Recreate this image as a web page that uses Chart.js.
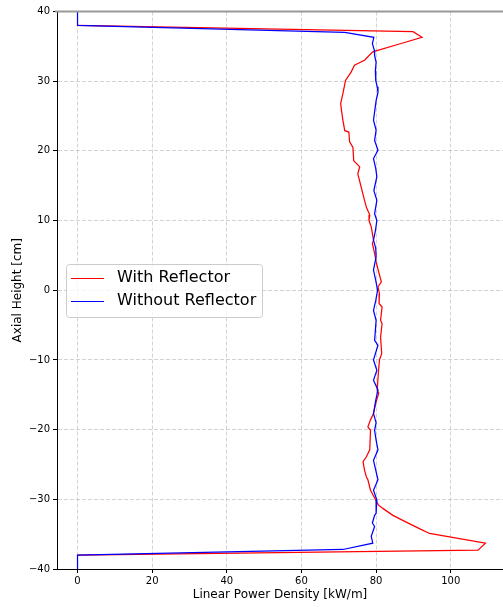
<!DOCTYPE html>
<html>
<head>
<meta charset="utf-8">
<script src="https://cdn.jsdelivr.net/npm/chart.js@4.4.1/dist/chart.umd.min.js"></script>
<style>
  html, body { margin:0; padding:0; background:#fff; }
  #wrap { width:503px; height:607px; }
</style>
</head>
<body>
<div id="wrap"><canvas id="c" width="503" height="607"></canvas></div>
<script>
// ── data ────────────────────────────────────────────────────
const seriesLabels = ['With Reflector', 'Without Reflector'];
const seriesColors = ['#ff0000', '#0000ff'];

// with reflector: axial height [cm] / linear power [kW/m]
// (the 0 kW/m ends at ±38..40 are hidden under the blue line in the picture)
const redZ = [38.0, 37.1, 36.3, 35.3, 34.2, 33.0, 32.3, 31.3, 30.1, 28.2, 26.8, 25.5, 24.4, 22.9, 22.7,
  21.3, 20.5, 18.6, 18.2, 17.7, 16.7, 14.8, 12.9, 11.9, 10.8, 10.0, 9.1, 7.2, 6.7, 5.3, 4.1, 2.4, 1.2, 0.5,
  -0.5, -1.9, -2.4, -4.3, -4.8, -6.7, -9.1, -10.0, -11.9, -14.3, -14.8, -16.2, -17.7, -18.6, -19.6, -20.1,
  -22.9, -23.9, -24.6, -25.8, -26.8, -27.2, -28.7, -30.1, -30.8, -31.3, -32.3, -33.2, -34.2, -34.9, -36.3,
  -37.3, -38.0];
const redP = [0, 89.9, 92.3, 86.0, 79.1, 76.9, 74.2, 73.3, 71.8, 71.1, 70.5, 70.8, 71.1, 71.6, 72.7,
  72.9, 73.8, 74.0, 74.7, 75.6, 75.1, 76.0, 76.9, 77.4, 78.3, 78.1, 78.7, 79.3, 79.0, 79.6, 80.0, 80.8, 81.4, 80.5,
  80.9, 80.8, 81.6, 81.2, 81.6, 81.2, 81.5, 80.9, 80.6, 80.3, 80.7, 79.9, 79.3, 78.5, 77.8, 78.5,
  78.3, 77.4, 76.5, 76.9, 77.4, 77.8, 78.5, 79.9, 80.6, 81.8, 84.5, 87.8, 91.6, 94.3, 109.3,
  107.3, 0];

// without reflector
const blueZ = [40, 38.0, 37.0, 36.3, 35.4, 34.5, 33.7, 32.7, 31.5, 30.1, 29.2, 28.4, 27.2, 26.0, 24.4, 23.0,
  21.5, 20.1, 18.9, 17.5, 16.3, 14.3, 12.9, 11.0, 10.0, 8.5, 7.2, 6.0, 4.8, 2.9, 1.4, 0, -1.5, -2.9, -4.3,
  -5.8, -7.2, -7.9, -10.0, -11.5, -12.9, -14.3, -15.8, -17.7, -19.0, -20.1, -21.5, -22.9, -24.4, -25.8,
  -27.2, -28.7, -30.1, -32.0, -32.3, -33.4, -33.9, -35.3, -36.3, -37.2, -38.0, -40];
const blueP = [0, 0, 71.6, 79.4, 79.0, 79.5, 79.6, 80.0, 79.8, 79.9, 80.3, 80.5, 80.0, 79.7, 79.3, 80.0,
  79.6, 80.5, 79.3, 79.9, 80.2, 79.4, 80.2, 79.6, 80.2, 79.8, 79.3, 79.9, 80.0, 79.3, 79.9, 80.4, 79.9, 79.3, 80.0,
  79.8, 79.6, 80.5, 79.3, 80.2, 79.3, 80.5, 79.9, 79.3, 80.0, 79.6, 80.0, 80.5, 79.3, 79.9,
  80.5, 79.3, 80.2, 80.0, 79.6, 79.0, 79.6, 78.7, 79.1, 71.1, 0, 0];

const xTicks = [0, 20, 40, 60, 80, 100];
const yTicks = [-40, -30, -20, -10, 0, 10, 20, 30, 40];

const pts = (xs, zs) => xs.map((v, i) => ({ x: v, y: zs[i] }));
const FONT = "'DejaVu Sans', sans-serif";
const GRID = 'rgba(176,176,176,0.7)';

// gray top rule + legend box inside plot
const decor = {
  id: 'decor',
  afterDraw(chart) {
    const { ctx, chartArea: a } = chart;
    ctx.save();
    ctx.strokeStyle = '#999999';
    ctx.lineWidth = 2;
    ctx.beginPath();
    ctx.moveTo(a.left - 2, a.top);
    ctx.lineTo(chart.width, a.top);
    ctx.stroke();

    // legend
    const bx = 66, by = 264, bw = 196, bh = 53, r = 3;
    ctx.fillStyle = 'rgba(255,255,255,0.8)';
    ctx.strokeStyle = '#cccccc';
    ctx.lineWidth = 1;
    ctx.beginPath();
    ctx.roundRect(bx + 0.5, by + 0.5, bw, bh, r);
    ctx.fill();
    ctx.stroke();
    ctx.font = '16px ' + FONT;
    ctx.textBaseline = 'middle';
    seriesLabels.forEach((lab, i) => {
      const yy = 278 + i * 23;
      ctx.strokeStyle = seriesColors[i];
      ctx.lineWidth = 1.2;
      ctx.beginPath();
      ctx.moveTo(71, yy + 0.5);
      ctx.lineTo(104, yy + 0.5);
      ctx.stroke();
      ctx.fillStyle = '#000';
      ctx.fillText(lab, 117, yy);
    });
    ctx.restore();
  }
};

new Chart(document.getElementById('c'), {
  type: 'scatter',
  data: {
    datasets: [
      { label: seriesLabels[0], data: pts(redP, redZ), showLine: true, borderColor: seriesColors[0],
        borderWidth: 1.25, pointRadius: 0, tension: 0, order: 2 },
      { label: seriesLabels[1], data: pts(blueP, blueZ), showLine: true, borderColor: seriesColors[1],
        borderWidth: 1.25, pointRadius: 0, tension: 0, order: 1 }
    ]
  },
  options: {
    responsive: false,
    animation: false,
    layout: { padding: { top: 11.5, right: 0, left: 0, bottom: 0 } },
    plugins: { legend: { display: false }, tooltip: { enabled: false } },
    scales: {
      x: {
        type: 'linear', min: -5.5, max: 114,
        afterBuildTicks: s => { s.ticks = xTicks.map(v => ({ value: v })); },
        afterFit: s => { s.height = 38; },
        grid: { color: GRID, lineWidth: 0.8, tickLength: 4, tickColor: '#000', tickWidth: 1 },
        border: { color: '#000', width: 1, dash: [4, 2] },
        ticks: { color: '#000', font: { family: FONT, size: 10 }, padding: 2, maxRotation: 0 },
        title: { display: true, text: 'Linear Power Density [kW/m]', color: '#000',
          font: { family: FONT, size: 12 }, padding: { top: 0, bottom: 5 } }
      },
      y: {
        type: 'linear', min: -40, max: 40,
        afterBuildTicks: s => { s.ticks = yTicks.map(v => ({ value: v })); },
        afterFit: s => { s.width = 57; },
        grid: { color: GRID, lineWidth: 0.8, tickLength: 4, tickColor: '#000', tickWidth: 1 },
        border: { color: '#000', width: 1, dash: [4, 2] },
        ticks: { color: '#000', font: { family: FONT, size: 10 }, padding: 3,
          callback: v => v < 0 ? '\u2212' + Math.abs(v) : String(v) },
        title: { display: true, text: 'Axial Height [cm]', color: '#000',
          font: { family: FONT, size: 12 }, padding: { top: 11, bottom: 0 } }
      }
    }
  },
  plugins: [decor]
});
</script>
</body>
</html>
